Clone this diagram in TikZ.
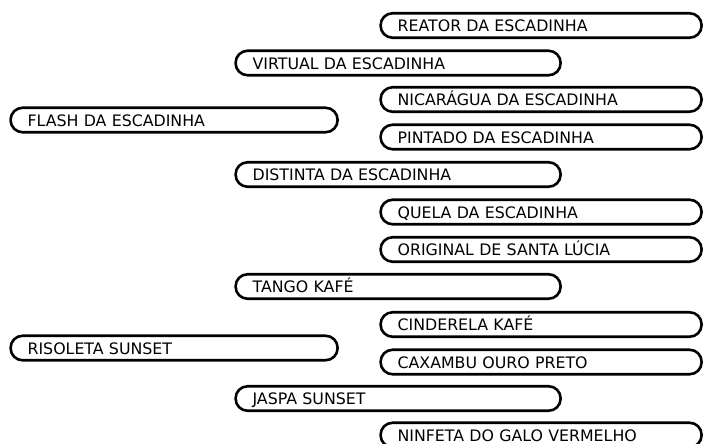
\documentclass[tikz,border=0pt]{standalone}
\usepackage{fontspec}
\setmainfont{DejaVu Sans}

\tikzset{
  animal/.style={draw, line width=2.6pt, rounded corners=12pt, minimum height=24.5pt,
    inner xsep=17pt, inner ysep=0pt, text height=12.5pt, text depth=0pt,
    align=left, anchor=west, font=\fontsize{15.8}{18}\selectfont},
  geracaoA/.style={animal, text width=293pt},
  geracaoB/.style={animal, text width=291pt},
  geracaoC/.style={animal, text width=287pt}
}

\begin{document}
\begin{tikzpicture}[x=1pt, y=-1pt]
\useasboundingbox (0,0) rectangle (704,444);

\begin{scope}
\path (9.3,120) coordinate (G1);
\path (9.3,348) coordinate (G2);

\node [geracaoA] (flash) at (G1) {FLASH DA ESCADINHA};
\node [geracaoA] (risoleta) at (G2) {RISOLETA SUNSET};
\end{scope}

\begin{scope}
\node [geracaoB] (virtual) at (234.3,63) {VIRTUAL DA ESCADINHA};
\node [geracaoB] (distinta) at (234.3,174.5) {DISTINTA DA ESCADINHA};
\node [geracaoB] (tango) at (234.3,286.5) {TANGO KAFÉ};
\node [geracaoB] (jaspa) at (234.3,398.5) {JASPA SUNSET};
\end{scope}

\begin{scope}
\node [geracaoC] (reator) at (379.3,25.5) {REATOR DA ESCADINHA};
\node [geracaoC] (nicaragua) at (379.3,99.5) {NICARÁGUA DA ESCADINHA};
\node [geracaoC] (pintado) at (379.3,137) {PINTADO DA ESCADINHA};
\node [geracaoC] (quela) at (379.3,212) {QUELA DA ESCADINHA};
\node [geracaoC] (original) at (379.3,249.5) {ORIGINAL DE SANTA LÚCIA};
\node [geracaoC] (cinderela) at (379.3,324.5) {CINDERELA KAFÉ};
\node [geracaoC] (caxambu) at (379.3,362) {CAXAMBU OURO PRETO};
\node [geracaoC] (ninfeta) at (379.3,435) {NINFETA DO GALO VERMELHO};
\end{scope}

\end{tikzpicture}
\end{document}
